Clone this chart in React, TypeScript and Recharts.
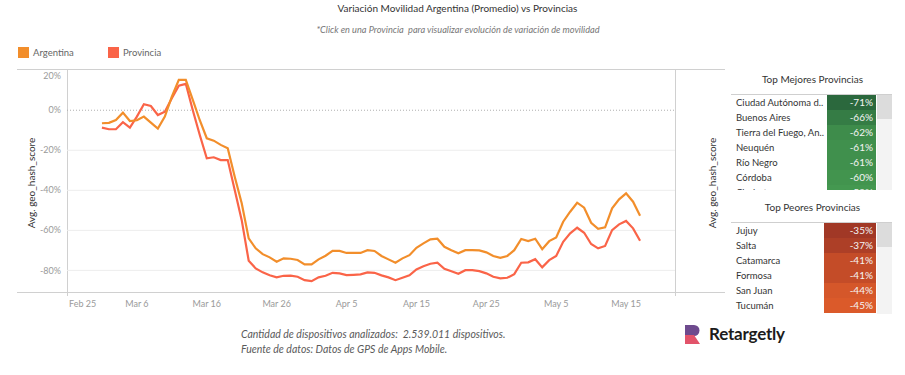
import { LineChart, Line, XAxis, YAxis, ReferenceLine } from 'recharts';

// days counted from Feb 25 2020; series starts Mar 1
const FIRST_DAY = 5;

const argentina = [
  -6.5, -6.3, -4.9, -1.2, -5.4, -5.0, -3.2, -6.2, -9.2, -3.2,
  6.8, 15.2, 15.2, 5.2, -5.0, -14.0, -15.2, -17.3, -19.0, -33.2,
  -46.5, -64.0, -69.0, -71.9, -73.5, -75.7, -74.0, -74.2, -74.8, -77.0,
  -77.0, -74.5, -72.7, -70.3, -70.3, -71.3, -71.3, -71.3, -69.9, -70.3,
  -72.8, -74.5, -76.2, -74.0, -72.4, -68.7, -66.5, -64.5, -64.2, -68.2,
  -69.9, -71.5, -69.9, -69.9, -70.0, -71.0, -72.8, -73.7, -72.8, -69.9,
  -64.3, -65.4, -64.2, -69.4, -65.4, -63.5, -55.7, -50.7, -46.2, -48.7,
  -56.2, -59.2, -58.5, -49.0, -44.5, -41.5, -45.7, -52.7,
];

const provincia = [
  -8.7, -9.5, -9.5, -6.0, -8.7, -3.2, 3.0, 2.1, -2.4, -0.7,
  6.0, 12.3, 13.2, 0.0, -12.4, -24.0, -23.5, -24.9, -24.9, -39.9,
  -54.9, -75.2, -79.0, -81.0, -82.4, -83.5, -82.7, -82.6, -83.2, -84.9,
  -85.4, -83.5, -82.7, -81.2, -81.5, -82.4, -82.2, -82.0, -81.0, -81.2,
  -82.5, -83.5, -84.9, -83.7, -82.5, -79.5, -77.9, -76.7, -76.2, -79.2,
  -80.4, -81.7, -79.9, -79.9, -80.4, -81.5, -83.2, -84.0, -83.7, -81.9,
  -76.2, -76.0, -74.4, -78.5, -74.9, -72.8, -65.7, -61.5, -58.7, -61.2,
  -66.8, -69.0, -67.8, -59.9, -57.0, -55.3, -59.0, -65.2,
];

const xTicks = [0, 10, 20, 30, 40, 50, 60, 70, 80];
const xTickLabels = ['Feb 25', 'Mar 6', 'Mar 16', 'Mar 26', 'Apr 5', 'Apr 15', 'Apr 25', 'May 5', 'May 15'];
const yTicks = [20, 0, -20, -40, -60, -80];
const gridValues = [-20, -40, -60, -80];

const bestNames = ['Ciudad Autónoma d..', 'Buenos Aires', 'Tierra del Fuego, An..', 'Neuquén', 'Río Negro', 'Córdoba', 'Chubut'];
const bestValues = [-71, -66, -62, -61, -61, -60, -59];
const worstNames = ['Jujuy', 'Salta', 'Catamarca', 'Formosa', 'San Juan', 'Tucumán'];
const worstValues = [-35, -37, -41, -41, -44, -45];

const COLORS = {
  argentina: '#f28e2b',
  provincia: '#fa6448',
  axis: '#d0d0d0',
  grid: '#ededed',
  tick: '#9a9a9a',
  text: '#333',
};

const data = argentina.map((v, i) => ({ day: FIRST_DAY + i, argentina: v, provincia: provincia[i] }));

const mix = (a: number[], b: number[], t: number) =>
  `rgb(${a.map((c, i) => Math.round(c + (b[i] - c) * t)).join(',')})`;

const greenColor = (v: number) => mix([43, 104, 61], [68, 152, 80], (v + 71) / 12);
const redColor = (v: number) => mix([161, 56, 38], [219, 90, 42], (-35 - v) / 10);

const XTick = (props: any) => {
  const { x, y, payload } = props;
  const idx = xTicks.indexOf(payload.value);
  const first = idx === 0;
  return (
    <text x={first ? x + 2 : x} y={y} dy="0.71em" textAnchor={first ? 'start' : 'middle'} fill={COLORS.tick} fontSize={9}>
      {xTickLabels[idx]}
    </text>
  );
};

const YTick = (props: any) => {
  const { x, y, payload, textAnchor } = props;
  return (
    <text x={x} y={y + (payload.value === 20 ? 6 : 0)} dy="0.35em" textAnchor={textAnchor} fill={COLORS.tick} fontSize={9}>
      {payload.value}%
    </text>
  );
};

const abs = (left: number, top: number, extra: any = {}) => ({ position: 'absolute' as const, left, top, ...extra });

const Table = ({ title, top, names, values, color, cellLeft, height }: any) => (
  <>
    <div style={abs(725, top - 8, { width: 175, textAlign: 'center', fontSize: 10, color: COLORS.text })}>{title}</div>
    <div style={abs(731, top + 13, { width: 161, height, overflow: 'hidden', borderTop: '1px solid #cfcfcf' })}>
      {names.map((n: string, i: number) => (
        <div key={n} style={{ position: 'absolute', left: 0, top: i * 15, height: 15, width: 161 }}>
          <div style={{ position: 'absolute', left: 5, top: 0, lineHeight: '15px', fontSize: 9.5, color: COLORS.text, whiteSpace: 'nowrap' }}>{n}</div>
          <div style={{ position: 'absolute', left: cellLeft, top: 0, width: 145 - cellLeft, height: 15, background: color(values[i]), color: '#f4f4f4', fontSize: 10, lineHeight: '15px', textAlign: 'right', paddingRight: 3, boxSizing: 'border-box' }}>
            {values[i]}%
          </div>
        </div>
      ))}
      <div style={{ position: 'absolute', left: 146, top: 0, width: 15, height, background: '#f3f3f3' }} />
      <div style={{ position: 'absolute', left: 146, top: 0, width: 15, height: 24, background: '#dcdcdc' }} />
    </div>
  </>
);

export default function App() {
  return (
    <div style={{ position: 'absolute', left: 0, top: 0, width: 905, height: 375, background: '#fff', fontFamily: 'Lato, sans-serif', overflow: 'hidden' }}>
      <div style={abs(0, 2, { width: 915, textAlign: 'center', fontSize: 10, color: COLORS.text })}>
        Variación Movilidad Argentina (Promedio) vs Provincias
      </div>
      <div style={abs(0, 24, { width: 916, textAlign: 'center', fontSize: 9.2, fontStyle: 'italic', color: '#777' })}>
        *Click en una Provincia&nbsp; para visualizar evolución de variación de movilidad
      </div>

      {/* legend */}
      <div style={abs(18, 47, { width: 11, height: 11, background: COLORS.argentina })} />
      <div style={abs(33, 46, { fontSize: 9.5, color: '#666', lineHeight: '13px' })}>Argentina</div>
      <div style={abs(108, 47, { width: 11, height: 11, background: COLORS.provincia })} />
      <div style={abs(123, 46, { fontSize: 9.5, color: '#666', lineHeight: '13px' })}>Provincia</div>

      {/* pane borders */}
      <div style={abs(17, 69, { width: 708, height: 1, background: COLORS.axis })} />
      <div style={abs(17, 292, { width: 708, height: 1, background: COLORS.axis })} />
      <div style={abs(67, 69, { width: 1, height: 227, background: COLORS.axis })} />
      <div style={abs(675, 69, { width: 1, height: 227, background: COLORS.axis })} />

      <div style={abs(0, 0)}>
        <LineChart width={720} height={320} data={data} margin={{ top: 69, right: 0, bottom: 0, left: 17 }}>
          <XAxis
            dataKey="day"
            type="number"
            domain={[0, 87]}
            ticks={xTicks}
            interval={0}
            height={28}
            axisLine={false}
            tickLine={false}
            tickSize={4}
            tickMargin={5}
            tick={<XTick />}
          />
          <YAxis
            yAxisId="left"
            type="number"
            domain={[-90.8, 20.6]}
            ticks={yTicks}
            interval={0}
            width={50}
            axisLine={false}
            tickLine={false}
            tickSize={4}
            tickMargin={2}
            tick={<YTick />}
          />
          <YAxis
            yAxisId="right"
            orientation="right"
            type="number"
            domain={[-90.8, 20.6]}
            ticks={yTicks}
            interval={0}
            width={45}
            axisLine={false}
            tickLine={false}
            tickSize={3}
            tickMargin={1}
            tick={<YTick />}
          />
          {gridValues.map((g) => (
            <ReferenceLine key={g} yAxisId="left" y={g} stroke={COLORS.grid} strokeWidth={1} />
          ))}
          <ReferenceLine yAxisId="left" y={0} stroke="#b0b0b0" strokeDasharray="1 2" />
          <Line yAxisId="left" dataKey="provincia" stroke={COLORS.provincia} strokeWidth={2.2} dot={false} isAnimationActive={false} />
          <Line yAxisId="left" dataKey="argentina" stroke={COLORS.argentina} strokeWidth={2.2} dot={false} isAnimationActive={false} />
        </LineChart>
      </div>

      {/* axis titles */}
      <div style={abs(31, 183, { transform: 'translate(-50%, -50%) rotate(-90deg)', fontSize: 10, color: COLORS.text, whiteSpace: 'nowrap' })}>
        Avg. geo_hash_score
      </div>
      <div style={abs(712, 183, { transform: 'translate(-50%, -50%) rotate(-90deg)', fontSize: 10, color: COLORS.text, whiteSpace: 'nowrap' })}>
        Avg. geo_hash_score
      </div>

      <Table title="Top Mejores Provincias" top={81} names={bestNames} values={bestValues} color={greenColor} cellLeft={96} height={95} />
      <Table title="Top Peores Provincias" top={209} names={worstNames} values={worstValues} color={redColor} cellLeft={93} height={91} />

      {/* footer */}
      <div style={abs(241, 327, { fontSize: 10.5, fontStyle: 'italic', color: '#5a5a5a', lineHeight: '15px', whiteSpace: 'nowrap' })}>
        Cantidad de dispositivos analizados:&nbsp; 2.539.011 dispositivos.
        <br />
        Fuente de datos: Datos de GPS de Apps Mobile.
      </div>

      {/* logo */}
      <svg style={abs(685, 325)} width={18} height={19} viewBox="0 0 18 19">
        <path d="M0 0 H9 A5.5 5.5 0 0 1 9 11 H0 Z" fill="#6e4a8e" />
        <path d="M0 10 H9 L15 19 H0 Z" fill="#e2536a" />
      </svg>
      <div style={abs(709, 323, { fontSize: 17, fontWeight: 700, color: '#1c1c1c', lineHeight: '22px', letterSpacing: -0.2 })}>
        Retargetly
      </div>
    </div>
  );
}
